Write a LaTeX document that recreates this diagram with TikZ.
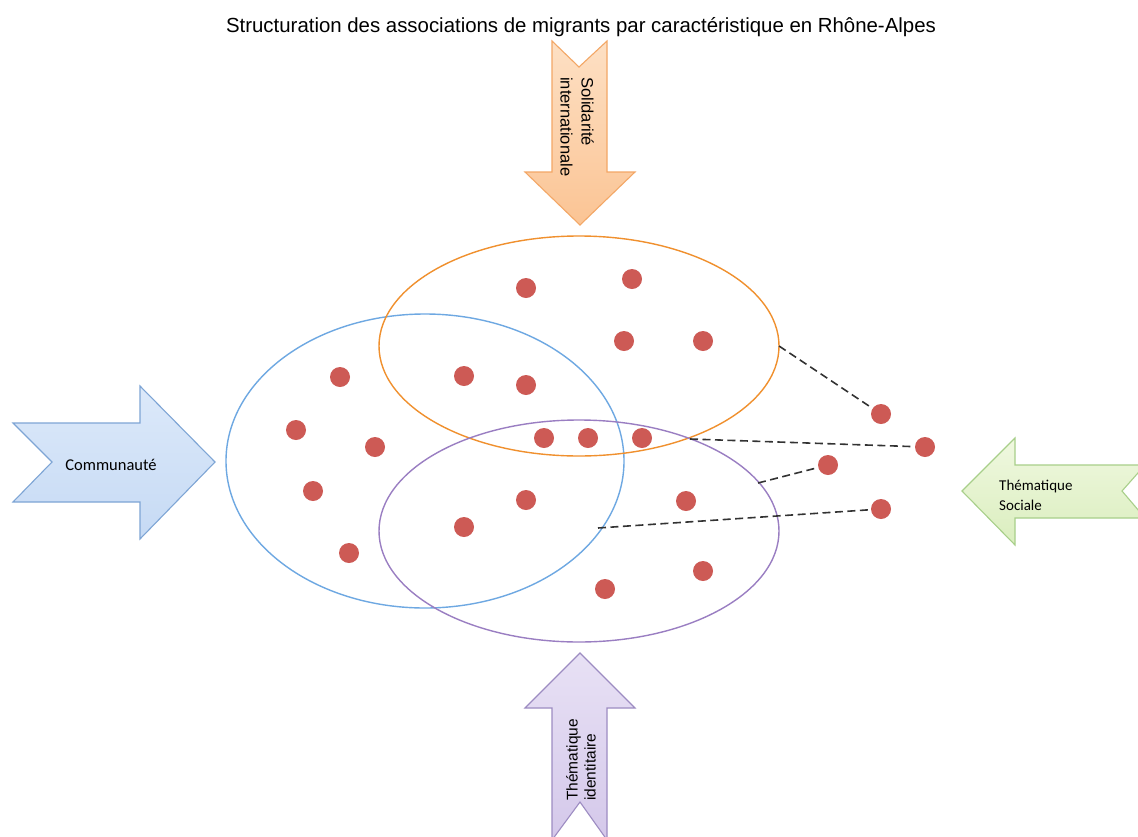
\documentclass[tikz,border=0pt]{standalone}
\usepackage{fontspec}
\setmainfont{Liberation Sans}
\newfontfamily\carl{Carlito}
\definecolor{dotred}{HTML}{CD5A55}
\definecolor{ellor}{HTML}{F0902E}
\definecolor{ellbl}{HTML}{6EA8E2}
\definecolor{ellpu}{HTML}{9A7EC2}
\definecolor{arorD}{HTML}{F3A766}
\definecolor{arblD}{HTML}{7EA5D5}
\definecolor{argrD}{HTML}{A8CF8A}
\definecolor{arpuD}{HTML}{9D8CC2}
\tikzset{
  dot/.style={circle, fill=dotred, draw=none, inner sep=0pt, minimum size=20pt},
  ell/.style={line width=1.4pt},
  link/.style={draw=black!80, line width=1.6pt, dash pattern=on 8pt off 4.5pt},
  bigarrow/.style={line width=1.1pt, line join=miter},
}
\begin{document}
\begin{tikzpicture}[x=1pt,y=-1pt]
\useasboundingbox (0,0) rectangle (1138,836);
\fill[white] (0,0) rectangle (1138,836);

% title
\node[font={\fontsize{20.4}{24}\selectfont}] (title) at (581,27) {Structuration des associations de migrants par caractéristique en Rhône-Alpes};

% ellipses
\draw[ell, ellbl] (425,461) ellipse [x radius=199, y radius=147];
\draw[ell, ellor] (579,346) ellipse [x radius=200, y radius=110];
\draw[ell, ellpu] (579,531) ellipse [x radius=200, y radius=111];

% arrows
\shade[bigarrow, draw=arorD, top color={rgb,255:red,253;green,224;blue,196}, bottom color={rgb,255:red,251;green,196;blue,148}]
  (552,41) -- (579,67) -- (607,41) -- (607,172) -- (635,172) -- (580,225) -- (525,172) -- (552,172) -- cycle;
\shade[bigarrow, draw=arblD, top color={rgb,255:red,220;green,233;blue,250}, bottom color={rgb,255:red,198;green,218;blue,244}]
  (13,423) -- (140,423) -- (140,386) -- (215,462) -- (140,539) -- (140,502) -- (13,502) -- (52,462) -- cycle;
\shade[bigarrow, draw=argrD, top color={rgb,255:red,240;green,248;blue,224}, bottom color={rgb,255:red,218;green,238;blue,190}]
  (1145,465) -- (1015,465) -- (1015,438) -- (962,491) -- (1015,545) -- (1015,518) -- (1145,518) -- (1122,491) -- cycle;
\shade[bigarrow, draw=arpuD, top color={rgb,255:red,232;green,225;blue,245}, bottom color={rgb,255:red,212;green,200;blue,234}]
  (552,840) -- (552,708) -- (525,708) -- (580,653) -- (635,708) -- (607,708) -- (607,840) -- (580,802) -- cycle;

% arrow labels
\node[rotate=-90, anchor=west, align=left, inner sep=0pt, font={\fontsize{16.5}{21}\selectfont}] (lsol) at (577,77)
  {Solidarité\\internationale};
\node[rotate=90, anchor=west, align=left, inner sep=0pt, font={\fontsize{15.5}{18}\selectfont}] (lide) at (581,801)
  {Thématique\\identitaire};
\node[inner sep=0pt, font={\carl\fontsize{16.5}{20}\selectfont}] (lcom) at (111,465) {Communauté};
\node[anchor=west, align=left, inner sep=0pt, font={\carl\fontsize{15}{20}\selectfont}] (lsoc) at (999,495)
  {Thématique\\Sociale};

% dots
\node[dot] (d1) at (526,288) {};
\node[dot] (d2) at (632,279) {};
\node[dot] (d3) at (624,341) {};
\node[dot] (d4) at (703,341) {};
\node[dot] (d5) at (340,377) {};
\node[dot] (d6) at (464,376) {};
\node[dot] (d7) at (526,385) {};
\node[dot] (d8) at (296,430) {};
\node[dot] (d9) at (375,447) {};
\node[dot] (d10) at (544,438) {};
\node[dot] (d11) at (588,438) {};
\node[dot] (d12) at (642,438) {};
\node[dot] (d13) at (313,491) {};
\node[dot] (d14) at (526,500) {};
\node[dot] (d15) at (464,527) {};
\node[dot] (d16) at (686,501) {};
\node[dot] (d17) at (349,553) {};
\node[dot] (d18) at (605,589) {};
\node[dot] (d19) at (703,571) {};
\node[dot] (d20) at (881,414) {};
\node[dot] (d21) at (925,447) {};
\node[dot] (d22) at (828,465) {};
\node[dot] (d23) at (881,509) {};

% dashed links
\coordinate (e1) at (779,346);
\coordinate (e2) at (690,439);
\coordinate (e3) at (758,483);
\coordinate (e4) at (598,528);
\draw[link] (e1) -- (d20);
\draw[link] (e2) -- (d21);
\draw[link] (e3) -- (d22);
\draw[link] (e4) -- (d23);
\end{tikzpicture}
\end{document}
